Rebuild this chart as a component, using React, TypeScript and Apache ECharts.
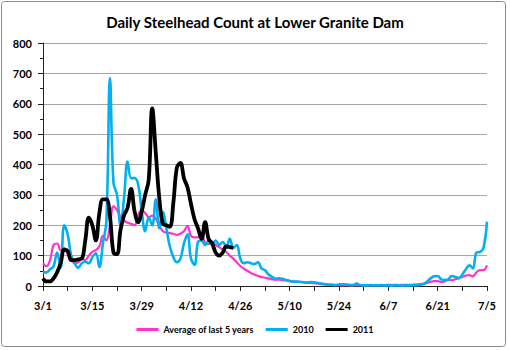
import React, { useEffect, useRef } from "react";
import * as echarts from "echarts";

const title = "Daily Steelhead Count at Lower Granite Dam";
const seriesNames = ["Average of last 5 years", "2010", "2011"];

// Dates 3/1 .. 7/5 (127 days)
const monthLengths = [[3, 31], [4, 30], [5, 31], [6, 30], [7, 5]];
const categories: string[] = [];
monthLengths.forEach(([m, n]) => {
  for (let d = 1; d <= n; d++) categories.push(`${m}/${d}`);
});

const avg5 = [
  75, 65, 85, 135, 140, 118, 125, 105, 85, 75, 78, 90, 85, 100, 112, 118, 130, 165, 150, 200,
  262, 250, 228, 215, 208, 205, 200, 235, 250, 240, 227, 232, 222, 200, 180, 176, 174, 172, 168, 172,
  180, 198, 165, 160, 160, 170, 142, 138, 145, 135, 128, 120, 112, 100, 90, 78, 66, 57, 50, 43,
  38, 33, 30, 27, 25, 22, 20, 21, 19, 18, 16, 15, 14, 13, 12, 11, 10, 9, 8, 6,
  5, 4, 4, 3, 3, 2, 3, 2, 3, 2, 3, 2, 3, 2, 3, 3, 2, 3, 4, 3,
  4, 3, 4, 4, 4, 4, 5, 6, 8, 10, 14, 16, 16, 13, 15, 20, 19, 22, 26, 30,
  34, 36, 32, 45, 52, 52, 68,
];

const y2010 = [
  45, 45, 55, 65, 110, 60, 200, 170, 100, 75, 60, 75, 80, 75, 95, 108, 62, 140, 215, 685,
  340, 300, 200, 290, 410, 355, 355, 335, 250, 180, 225, 200, 285, 190, 245, 190, 130, 95, 78, 90,
  140, 170, 90, 70, 145, 150, 135, 150, 135, 150, 135, 145, 130, 155, 125, 135, 90, 75, 78, 75,
  72, 78, 58, 52, 38, 30, 24, 25, 24, 20, 17, 14, 15, 14, 12, 11, 13, 12, 10, 8,
  6, 5, 4, 3, 5, 6, 5, 4, 3, 8, 3, 2, 2, 3, 2, 2, 3, 2, 2, 1,
  2, 2, 1, 2, 2, 3, 3, 4, 6, 15, 25, 32, 33, 22, 20, 22, 33, 30, 26, 38,
  55, 68, 58, 110, 112, 125, 212,
];

const y2011 = [
  25, 15, 15, 25, 45, 75, 120, 115, 85, 85, 88, 90, 150, 225, 200, 150, 240, 285, 285, 230,
  110, 105, 185, 232, 258, 320, 245, 210, 245, 300, 350, 585, 440, 290, 205, 200, 195, 275, 390, 405,
  355, 325, 270, 220, 190, 155, 210, 155, 140, 110, 100, 110, 130, 128, 125,
];

const colors = ["#FF33CC", "#00B0F0", "#000000"];
const FONT = "Lato, 'Open Sans', sans-serif";

export default function App() {
  const ref = useRef<HTMLDivElement>(null);
  useEffect(() => {
    if (!ref.current) return;
    const chart = echarts.init(ref.current, undefined, { renderer: "svg" });
    chart.setOption({
      animation: false,
      backgroundColor: "#fff",
      title: {
        text: title,
        left: "center",
        top: 9,
        textStyle: { fontFamily: FONT, fontWeight: "bold", fontSize: 15, color: "#000" },
      },
      graphic: [
        {
          type: "rect",
          shape: { x: 1.5, y: 1.5, width: 504, height: 345, r: 3 },
          style: { fill: "none", stroke: "#8c8c8c", lineWidth: 1 },
          silent: true,
          z: 100,
        },
      ],
      legend: {
        data: seriesNames.map((n) => ({ name: n, icon: "rect" })),
        bottom: 11,
        left: "center",
        itemWidth: 22,
        itemHeight: 3,
        itemGap: 12,
        textStyle: { fontFamily: FONT, fontWeight: "bold", fontSize: 9, color: "#000" },
      },
      grid: { left: 43, right: 23, top: 43, bottom: 64, containLabel: false },
      xAxis: {
        type: "category",
        data: categories,
        boundaryGap: false,
        axisLine: { lineStyle: { color: "#222", width: 1 } },
        axisTick: { interval: 6, length: 5, lineStyle: { color: "#222" } },
        axisLabel: {
          interval: 13,
          margin: 14,
          fontFamily: FONT,
          fontWeight: "bold",
          fontSize: 11,
          color: "#000",
        },
        splitLine: { show: false },
      },
      yAxis: {
        type: "value",
        min: 0,
        max: 800,
        interval: 100,
        axisLine: { show: true, lineStyle: { color: "#222", width: 1 } },
        axisTick: { show: true, length: 5, lineStyle: { color: "#222" } },
        minorTick: { show: true, splitNumber: 2, length: 3, lineStyle: { color: "#222" } },
        axisLabel: {
          margin: 11,
          fontFamily: FONT,
          fontWeight: "bold",
          fontSize: 11,
          color: "#000",
        },
        splitLine: { show: true, lineStyle: { color: "#a6a6a6", width: 1.2 } },
      },
      series: [
        {
          name: seriesNames[0],
          type: "line",
          data: avg5,
          symbol: "none",
          smooth: 0.4,
          lineStyle: { color: colors[0], width: 2.2 },
          itemStyle: { color: colors[0] },
          z: 2,
        },
        {
          name: seriesNames[1],
          type: "line",
          data: y2010,
          symbol: "none",
          smooth: 0.4,
          lineStyle: { color: colors[1], width: 2.6 },
          itemStyle: { color: colors[1] },
          z: 3,
        },
        {
          name: seriesNames[2],
          type: "line",
          data: y2011,
          symbol: "none",
          smooth: 0.4,
          lineStyle: { color: colors[2], width: 3.8 },
          itemStyle: { color: colors[2] },
          z: 4,
        },
      ],
    });
    return () => chart.dispose();
  }, []);
  return (
    <div
      ref={ref}
      style={{ position: "fixed", left: 0, top: 0, width: 510, height: 350, background: "#fff" }}
    />
  );
}
